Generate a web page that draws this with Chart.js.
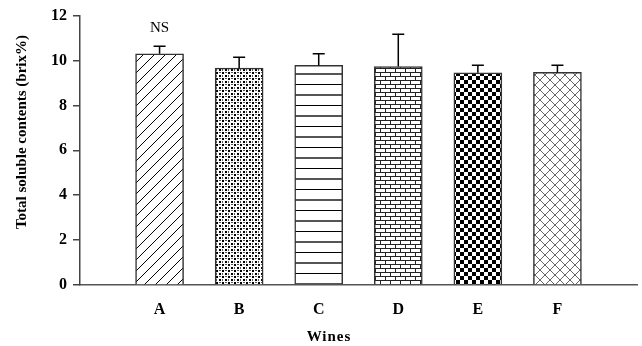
<!DOCTYPE html>
<html>
<head>
<meta charset="utf-8">
<script src="https://cdn.jsdelivr.net/npm/chart.js@4"></script>
<style>
  html, body { margin: 0; padding: 0; background: #fff; }
  #wrap { width: 642px; height: 346px; }
</style>
</head>
<body>
<div id="wrap"><canvas id="chart"></canvas></div>
<script>
/* ============================
   DATA
   ============================ */
const wines = ["A", "B", "C", "D", "E", "F"];
const brixMeans = [10.30, 9.66, 9.78, 9.73, 9.45, 9.47];
const brixErrors = [0.34, 0.49, 0.52, 1.44, 0.34, 0.32];
const sigLabel = "NS";
const yTitle = "Total soluble contents (brix%)";
const xTitle = "Wines";

const SERIF = '"Liberation Serif", "Times New Roman", serif';

/* ============================
   FILL PATTERNS (one per wine)
   ============================ */
function tile(w, h, draw) {
  const c = document.createElement("canvas");
  c.width = w;
  c.height = h;
  const g = c.getContext("2d");
  g.fillStyle = "#fff";
  g.fillRect(0, 0, w, h);
  draw(g);
  return document.getElementById("chart").getContext("2d").createPattern(c, "repeat");
}

const patterns = [
  // A: diagonal lines
  tile(11, 11, (g) => {
    g.strokeStyle = "#000";
    g.lineWidth = 1;
    g.beginPath();
    g.moveTo(-1, 12); g.lineTo(12, -1);
    g.moveTo(-2, 1); g.lineTo(1, -2);
    g.moveTo(10, 13); g.lineTo(13, 10);
    g.stroke();
  }),
  // B: stipple dots
  tile(6, 6, (g) => {
    g.fillStyle = "#000";
    g.fillRect(0, 0, 2, 2);
    g.fillRect(3, 3, 2, 2);
    g.fillStyle = "#555";
    g.fillRect(3, 0, 2, 1);
    g.fillRect(0, 3, 1, 2);
  }),
  // C: horizontal lines
  tile(10, 21, (g) => {
    g.fillStyle = "#000";
    g.fillRect(0, 0, 10, 1);
    g.fillStyle = "#555";
    g.fillRect(0, 10, 10, 2);
  }),
  // D: bricks
  tile(10, 8, (g) => {
    g.fillStyle = "#222";
    g.fillRect(0, 0, 10, 1);
    g.fillRect(0, 4, 10, 1);
    g.fillRect(0, 0, 1, 4);
    g.fillRect(5, 4, 1, 4);
  }),
  // E: checkerboard
  tile(8, 8, (g) => {
    g.fillStyle = "#000";
    g.fillRect(0, 0, 4, 4);
    g.fillRect(4, 4, 4, 4);
  }),
  // F: diamond lattice
  tile(10, 10, (g) => {
    g.strokeStyle = "#666";
    g.lineWidth = 1;
    g.beginPath();
    g.moveTo(0, 0); g.lineTo(10, 10);
    g.moveTo(0, 10); g.lineTo(10, 0);
    g.stroke();
  }),
];

/* ============================
   ERROR BARS + TITLES
   ============================ */
const extrasPlugin = {
  id: "extras",
  afterDatasetsDraw(chart) {
    const ctx = chart.ctx;
    const y = chart.scales.y;
    const bars = chart.getDatasetMeta(0).data;

    ctx.save();
    ctx.strokeStyle = "#000";
    ctx.lineWidth = 1.5;
    bars.forEach((bar, i) => {
      const top = y.getPixelForValue(brixMeans[i] + brixErrors[i]);
      ctx.beginPath();
      ctx.moveTo(bar.x, bar.y);
      ctx.lineTo(bar.x, top);
      ctx.moveTo(bar.x - 6, top);
      ctx.lineTo(bar.x + 6, top);
      ctx.stroke();
    });

    // significance label over A
    const a = bars[0];
    const aTop = y.getPixelForValue(brixMeans[0] + brixErrors[0]);
    ctx.fillStyle = "#000";
    ctx.font = "15px " + SERIF;
    ctx.textAlign = "center";
    ctx.textBaseline = "middle";
    ctx.fillText(sigLabel, a.x, aTop - 18);

    // axis titles
    ctx.font = "bold 15px " + SERIF;
    ctx.letterSpacing = "1px";
    ctx.fillText(xTitle, 329, 337);
    ctx.letterSpacing = "0px";
    ctx.translate(22, 132);
    ctx.rotate(-Math.PI / 2);
    ctx.fillText(yTitle, 0, 0);
    ctx.restore();
  },
};

/* ============================
   CHART
   ============================ */
new Chart(document.getElementById("chart"), {
  type: "bar",
  data: {
    datasets: [
      {
        data: wines.map((w, i) => ({ x: i + 1, y: brixMeans[i] })),
        backgroundColor: patterns,
        borderColor: "#333",
        borderWidth: 1.5,
        barThickness: 48,
      },
    ],
  },
  options: {
    responsive: true,
    maintainAspectRatio: false,
    animation: false,
    layout: { padding: { top: 15, right: 5, left: 0, bottom: 0 } },
    plugins: { legend: { display: false }, tooltip: { enabled: false } },
    scales: {
      x: {
        type: "linear",
        min: 0,
        max: 7,
        offset: false,
        ticks: {
          stepSize: 1,
          autoSkip: false,
          maxRotation: 0,
          padding: 15,
          color: "#000",
          font: { family: SERIF, size: 16, weight: "bold" },
          callback: (v) => wines[v - 1] || "",
        },
        grid: { display: false, drawTicks: false, offset: false },
        border: { color: "#555", width: 1.5 },
        afterFit: (s) => {
          s.height = 61;
          s.paddingLeft = 0;
          s.paddingRight = 0;
        },
      },
      y: {
        min: 0,
        max: 12,
        ticks: {
          stepSize: 2,
          padding: 6,
          color: "#000",
          font: { family: SERIF, size: 16, weight: "bold" },
        },
        grid: { drawOnChartArea: false, tickLength: 7, color: "#444", lineWidth: 1.5 },
        border: { color: "#444", width: 1.5 },
        afterFit: (s) => { s.width = 80; },
      },
    },
  },
  plugins: [extrasPlugin],
});
</script>
</body>
</html>
